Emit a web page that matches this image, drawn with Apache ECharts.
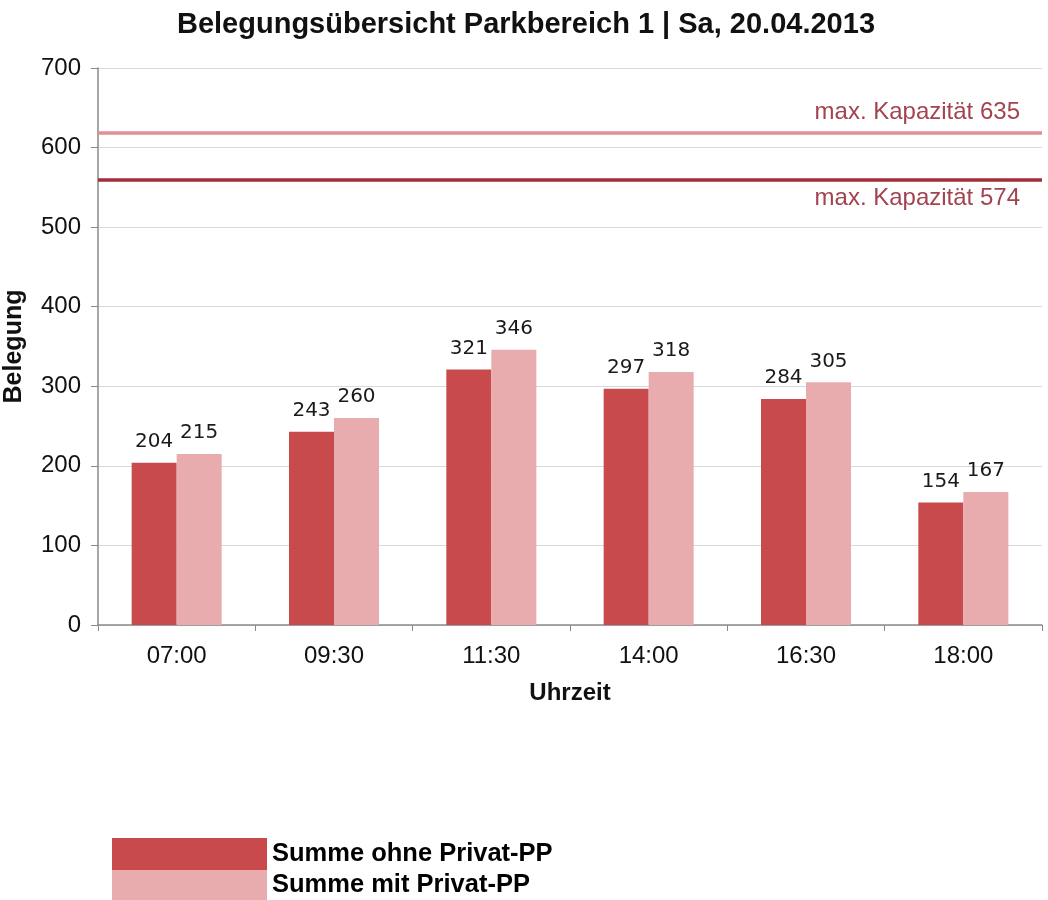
<!DOCTYPE html>
<html><head><meta charset="utf-8">
<script src="https://cdn.jsdelivr.net/npm/echarts@6/dist/echarts.min.js"></script>
<style>html,body{margin:0;padding:0;background:#fff}#c{width:1048px;height:900px}</style>
</head><body><div id="c"></div>
<script>
const categories = ['07:00','09:30','11:30','14:00','16:30','18:00'];
const ohnePrivat = [204,243,321,297,284,154];
const mitPrivat = [215,260,346,318,305,167];
const seriesNames = ['Summe ohne Privat-PP','Summe mit Privat-PP'];
const capacityLevels = [619,559];
const capacityLabels = ['max. Kapazität 635','max. Kapazität 574'];
const yTicks = [0,100,200,300,400,500,600,700];

const chart = echarts.init(document.getElementById('c'), null, {renderer:'canvas'});
const labelStyle = {show:true, position:'top', distance:11, fontFamily:'DejaVu Sans', fontSize:20, color:'#1a1a1a'};
const legendText = {fontFamily:'Liberation Sans', fontWeight:'bold', fontSize:25.5, color:'#000'};
chart.setOption({
  animation:false,
  title:{text:'Belegungsübersicht Parkbereich 1 | Sa, 20.04.2013', left:521, textAlign:'center', top:5,
    textStyle:{fontFamily:'Liberation Sans', fontWeight:'bold', fontSize:29, color:'#111'}},
  grid:{left:98, right:6, top:68, bottom:275, containLabel:false, outerBoundsMode:'none'},
  legend:[
    {left:112, top:838, itemWidth:155, itemHeight:32, icon:'rect', data:[seriesNames[0]], textStyle:legendText, padding:0},
    {left:112, top:870, itemWidth:155, itemHeight:30, icon:'rect', data:[seriesNames[1]], textStyle:legendText, padding:0}
  ],
  xAxis:{type:'category', data:categories,
    name:'Uhrzeit', nameLocation:'middle', nameGap:56,
    nameTextStyle:{fontFamily:'Liberation Sans', fontWeight:'bold', fontSize:24, color:'#111'},
    axisLine:{lineStyle:{color:'#8a8a8a', width:1.5}},
    axisTick:{show:true, length:6, lineStyle:{color:'#8a8a8a'}},
    axisLabel:{fontFamily:'Liberation Sans', fontSize:24, color:'#111', margin:19}},
  yAxis:{type:'value', min:yTicks[0], max:yTicks[yTicks.length-1], interval:100,
    name:'Belegung', nameLocation:'middle', nameGap:71, nameRotate:90,
    nameTextStyle:{fontFamily:'Liberation Sans', fontWeight:'bold', fontSize:25, color:'#111'},
    axisLine:{show:true, lineStyle:{color:'#8a8a8a', width:1.5}},
    axisTick:{show:true, inside:false, length:7, lineStyle:{color:'#8a8a8a'}},
    splitLine:{lineStyle:{color:'#d8d8d8', width:1.2}},
    axisLabel:{fontFamily:'Liberation Sans', fontSize:24, color:'#111', margin:17}},
  series:[
    {name:seriesNames[0], type:'bar', data:ohnePrivat, barWidth:45, barGap:'0%',
     itemStyle:{color:'#c94a4c'}, label:labelStyle,
     markLine:{silent:true, symbol:'none',
       data:[
        {yAxis:capacityLevels[0], lineStyle:{color:'#de9096', width:3.5, type:'solid'},
         label:{formatter:capacityLabels[0], position:'insideEndTop', distance:[22,8], fontFamily:'Liberation Sans', fontSize:24, color:'#a3434f'}},
        {yAxis:capacityLevels[1], lineStyle:{color:'#a52c38', width:3.5, type:'solid'},
         label:{formatter:capacityLabels[1], position:'insideEndBottom', distance:[22,6], fontFamily:'Liberation Sans', fontSize:24, color:'#a3434f'}}
       ]}},
    {name:seriesNames[1], type:'bar', data:mitPrivat, barWidth:45,
     itemStyle:{color:'#e8acaf'}, label:labelStyle}
  ]
});
</script></body></html>
